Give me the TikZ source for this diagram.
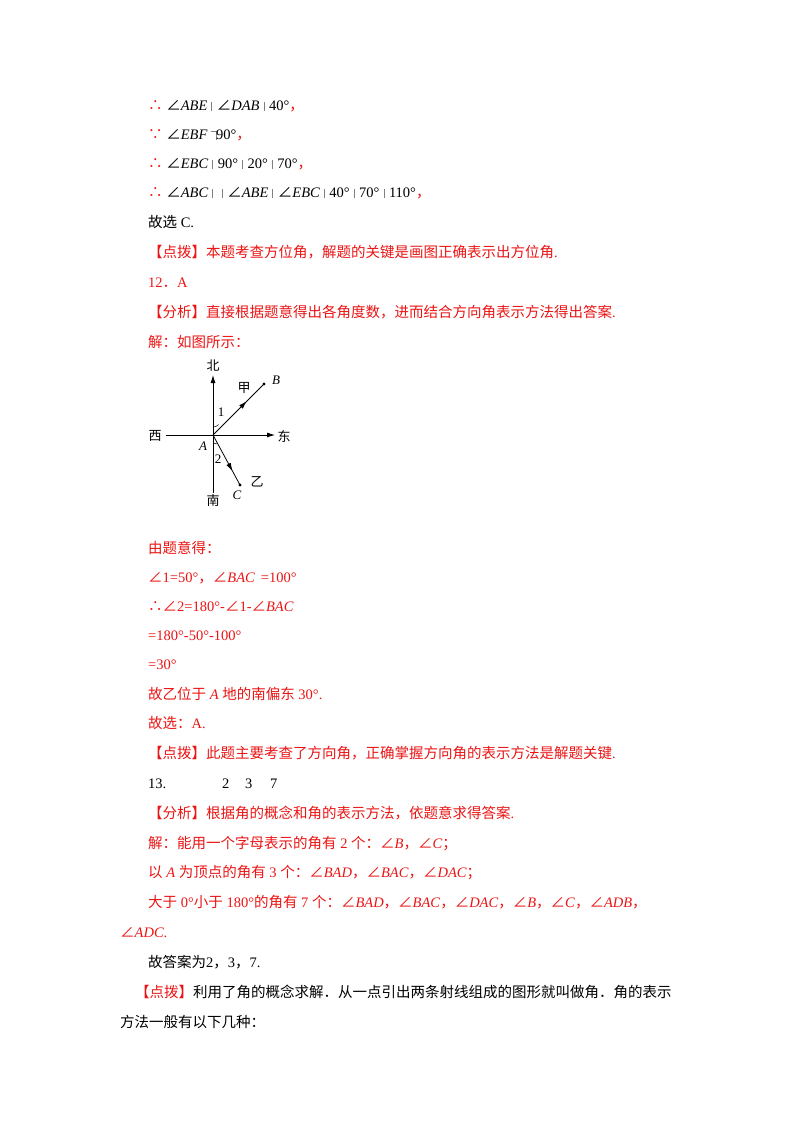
\documentclass[tikz,border=0pt]{standalone}
\usepackage{fontspec}
\setmainfont{Liberation Serif}
\newfontfamily\cjk{Noto Sans CJK SC}
\newcommand{\zh}[1]{{\cjk #1}}
\newcommand{\an}{{\cjk ∠}}
\newcommand{\gb}{\hspace{4pt}{\color{gray}\rule[-1pt]{0.5pt}{9pt}}\hspace{5pt}}
\newcommand{\gc}{\hspace{3pt}{\color{gray}\rule[8pt]{5pt}{0.5pt}\rule[-1pt]{0.5pt}{9.5pt}}}
\definecolor{rd}{RGB}{235,20,20}
\usetikzlibrary{arrows.meta,decorations.markings}
\begin{document}
\begin{tikzpicture}[x=1pt,y=-1pt,font=\fontsize{14.5}{16}\selectfont,
 txt/.style={anchor=base west,inner sep=0pt},
 red/.style={txt,text=rd},
 ax/.style={line width=0.8pt,-{Latex[length=8pt,width=5pt]}},
 mid/.style={line width=0.8pt,decoration={markings,mark=at position #1 with {\arrow{Latex[length=8pt,width=5pt]}}},postaction=decorate},
 lbl/.style={inner sep=0pt,font=\fontsize{13}{14}\selectfont}]
\useasboundingbox (0,0) rectangle (800,1132);
\node[txt] (l1) at (148,110) {{\color{rd}\zh{∴}} \an\textit{ABE}\gb\an\textit{DAB}\gb 40°{\color{rd}\zh{，}}};
\node[txt] (l2) at (148,139) {{\color{rd}\zh{∵}} \an\textit{EBF}\gc 90°{\color{rd}\zh{，}}};
\node[txt] (l3) at (148,168) {{\color{rd}\zh{∴}} \an\textit{EBC}\gb 90°\gb 20°\gb 70°{\color{rd}\zh{，}}};
\node[txt] (l4) at (148,197) {{\color{rd}\zh{∴}} \an\textit{ABC}\gb\gb\an\textit{ABE}\gb\an\textit{EBC}\gb 40°\gb 70°\gb 110°{\color{rd}\zh{，}}};
\node[txt] (l5) at (148,227) {\zh{故选} C.};
\node[red] (l6) at (148,257) {\zh{【点拨】本题考查方位角，解题的关键是画图正确表示出方位角}.};
\node[red] (l7) at (148,287) {12\zh{．}A};
\node[red] (l8) at (148,317) {\zh{【分析】直接根据题意得出各角度数，进而结合方向角表示方法得出答案}.};
\node[red] (l9) at (148,347) {\zh{解：如图所示：}};
% figure
\coordinate (A) at (213,435);
\coordinate (S) at (213,493);
\coordinate (N) at (213,375);
\coordinate (W) at (166,435);
\coordinate (E) at (275,435);
\coordinate (B) at (264,384);
\coordinate (C) at (240,485);
\draw[ax] (S) -- (N);
\draw[ax] (W) -- (E);
\draw[mid=0.66] (A) -- (B);
\draw[mid=0.72] (A) -- (C);
\fill (B) circle (1.6pt) (C) circle (1.6pt);
\draw[line width=0.5pt] (213,427) arc[start angle=90,end angle=45,radius=8];
\draw[line width=0.5pt] (213,443) arc[start angle=-90,end angle=-62,radius=8];
\node[lbl] (nb) at (213,366) {\zh{北}};
\node[lbl] (nn) at (213,501) {\zh{南}};
\node[lbl] (nw) at (155,436) {\zh{西}};
\node[lbl] (ne) at (284,436) {\zh{东}};
\node[lbl] (na) at (203,446) {\textit{A}};
\node[lbl] (nbb) at (276,380) {\textit{B}};
\node[lbl] (ncc) at (237,495) {\textit{C}};
\node[lbl] (nj) at (244,388) {\zh{甲}};
\node[lbl] (ny) at (257,482) {\zh{乙}};
\node[lbl] (n1) at (221,412) {1};
\node[lbl] (n2) at (218,459) {2};
% after figure
\node[red] (m1) at (148,553) {\zh{由题意得：}};
\node[red] (m2) at (148,582) {\an 1=50°\zh{，}\an\textit{BAC}\, =100°};
\node[red] (m3) at (148,611) {\zh{∴∠}2=180°-\an 1-\an\textit{BAC}};
\node[red] (m4) at (148,640) {=180°-50°-100°};
\node[red] (m5) at (148,669) {=30°};
\node[red] (m6) at (148,699) {\zh{故乙位于} \textit{A} \zh{地的南偏东} 30°.};
\node[red] (m7) at (148,728) {\zh{故选：}A.};
\node[red] (m8) at (148,758) {\zh{【点拨】此题主要考查了方向角，正确掌握方向角的表示方法是解题关键}.};
\node[txt] (q1) at (148,788) {13.};
\node[txt] (q2) at (222,788) {2};
\node[txt] (q3) at (245,788) {3};
\node[txt] (q4) at (270,788) {7};
\node[red] (q5) at (148,818) {\zh{【分析】根据角的概念和角的表示方法，依题意求得答案}.};
\node[red] (q6) at (148,848) {\zh{解：能用一个字母表示的角有} 2 \zh{个：}\an\textit{B}\zh{，}\an\textit{C}\zh{；}};
\node[red] (q7) at (148,877) {\zh{以} \textit{A} \zh{为顶点的角有} 3 \zh{个：}\an\textit{BAD}\zh{，}\an\textit{BAC}\zh{，}\an\textit{DAC}\zh{；}};
\node[red] (q8) at (148,907) {\zh{大于} 0°\zh{小于} 180°\zh{的角有} 7 \zh{个：}\an\textit{BAD}\zh{，}\an\textit{BAC}\zh{，}\an\textit{DAC}\zh{，}\an\textit{B}\zh{，}\an\textit{C}\zh{，}\an\textit{ADB}\zh{，}};
\node[red] (q9) at (120,937) {\an\textit{ADC}.};
\node[txt] (q10) at (148,967) {\zh{故答案为}2\zh{，}3\zh{，}7.};
\node[txt] (q11) at (135,997) {{\color{rd}\zh{【点拨】}}\zh{利用了角的概念求解．从一点引出两条射线组成的图形就叫做角．角的表示}};
\node[txt] (q12) at (120,1027) {\zh{方法一般有以下几种：}};
\end{tikzpicture}
\end{document}
